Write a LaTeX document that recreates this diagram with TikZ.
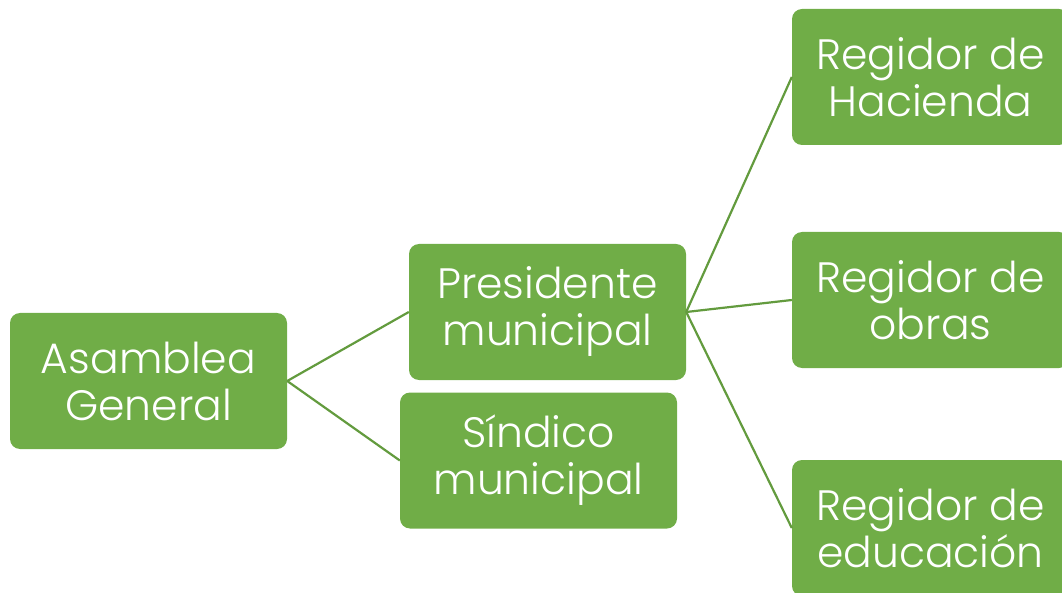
\documentclass[tikz,border=0pt]{standalone}
\usepackage{fontspec}
\setmainfont{Poppins}[UprightFont=* Light]
\definecolor{boxgreen}{HTML}{70AD47}
\definecolor{linegreen}{HTML}{639B3E}
\begin{document}
\begin{tikzpicture}[x=1pt,y=-1pt,
  orgbox/.style={draw=none,fill=boxgreen,rounded corners=10pt,minimum width=277pt,minimum height=136pt,
    text=white,align=center,inner sep=0pt,font=\fontsize{42.5}{47}\selectfont},
  link/.style={draw=linegreen,line width=2.2pt}]
\clip (0,0) rectangle (1062,593);
\useasboundingbox (0,0) rectangle (1062,593);
\node[orgbox] (asam) at (148.5,381) {Asamblea\\General};
\node[orgbox] (pres) at (547.5,312) {Presidente\\municipal};
\node[orgbox] (sind) at (538.5,460.5) {Síndico\\municipal};
\node[orgbox] (hac) at (930.5,77) {Regidor de\\Hacienda};
\node[orgbox] (obr) at (930.5,300) {Regidor de\\obras};
\node[orgbox] (edu) at (930.5,528) {Regidor de\\educación};
\draw[link] (asam.east) -- (pres.west);
\draw[link] (asam.east) -- (sind.west);
\draw[link] (pres.east) -- (hac.west);
\draw[link] (pres.east) -- (obr.west);
\draw[link] (pres.east) -- (edu.west);
\end{tikzpicture}
\end{document}
